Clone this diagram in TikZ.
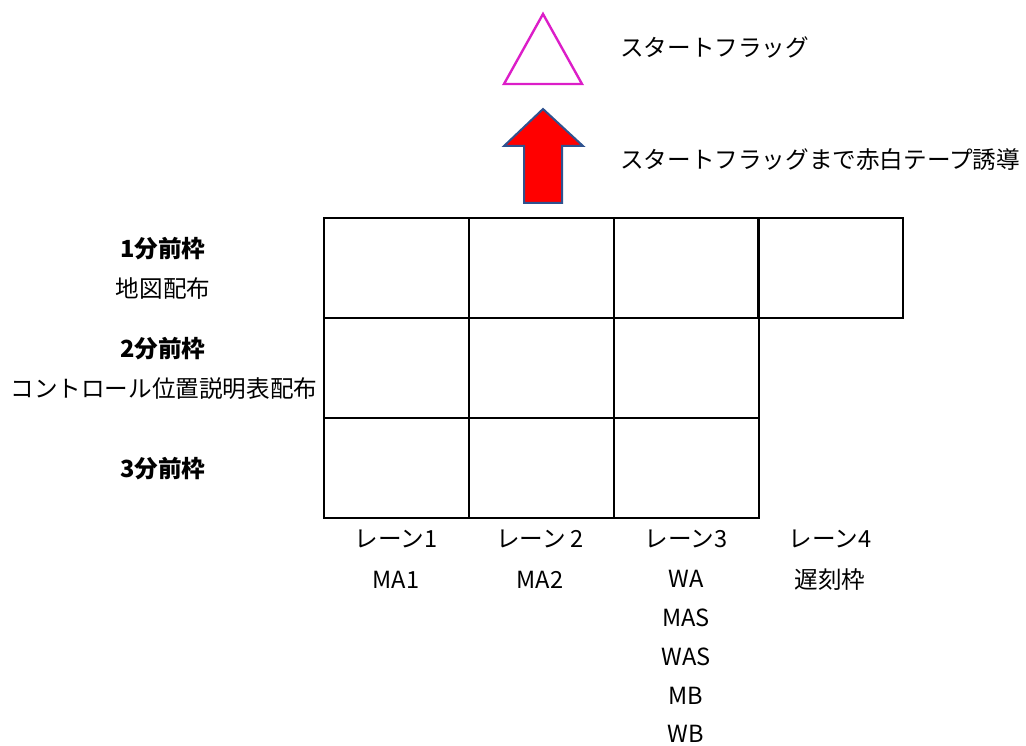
\documentclass[tikz,border=0pt]{standalone}
\usepackage{fontspec}
\setmainfont{Noto Sans CJK JP}
\begin{document}
\begin{tikzpicture}[x=1pt,y=1pt,
  cell/.style={draw=black,line width=2pt,minimum width=144.5pt,minimum height=99.5pt,inner sep=0pt,anchor=north west},
  lbl/.style={inner sep=0pt,font=\fontsize{23.6}{26}\selectfont,text=black},
  blbl/.style={lbl,font=\fontsize{23.6}{26}\selectfont\bfseries}]
\useasboundingbox (0,0) rectangle (1026,-746);
% flag
\draw[line width=2.4pt,draw={rgb,255:red,220;green,30;blue,200},line join=miter] (543,-14) -- (582,-84) -- (504,-84) -- cycle;
\node[lbl,anchor=west] (flag) at (620,-47) {スタートフラッグ};
% arrow
\draw[line width=2pt,draw={rgb,255:red,47;green,82;blue,143},fill=red,line join=miter]
  (543,-109) -- (583,-146) -- (562,-146) -- (562,-203) -- (524,-203) -- (524,-146) -- (504,-146) -- cycle;
\node[lbl,anchor=west] (tape) at (620,-160) {スタートフラッグまで赤白テープ誘導};
% grid
\foreach \c/\x in {1/323,2/468,3/613}{
  \foreach \r/\y in {1/217,2/317,3/417}{
    \node[cell] (c\r\c) at (\x,-\y) {};
  }
}
\node[cell] (c14) at (757,-217) {};
% left labels
\node[blbl] (r1) at (163,-249) {1分前枠};
\node[lbl] (r1b) at (163,-289) {地図配布};
\node[blbl] (r2) at (163,-349) {2分前枠};
\node[lbl] (r2b) at (164,-389) {コントロール位置説明表配布};
\node[blbl] (r3) at (163,-469) {3分前枠};
% lane labels
\node[lbl] (l1) at (396,-539) {レーン1};
\node[lbl] (l1a) at (396,-580) {MA1};
\node[lbl] (l2) at (540,-539) {レーン 2};
\node[lbl] (l2a) at (540,-580) {MA2};
\node[lbl] (l3) at (686,-539) {レーン3};
\node[lbl] (l3a) at (686,-579) {WA};
\node[lbl] (l3b) at (686,-618) {MAS};
\node[lbl] (l3c) at (686,-657) {WAS};
\node[lbl] (l3d) at (686,-696) {MB};
\node[lbl] (l3e) at (686,-734) {WB};
\node[lbl] (l4) at (830,-539) {レーン4};
\node[lbl] (l4a) at (830,-580) {遅刻枠};
\end{tikzpicture}
\end{document}
